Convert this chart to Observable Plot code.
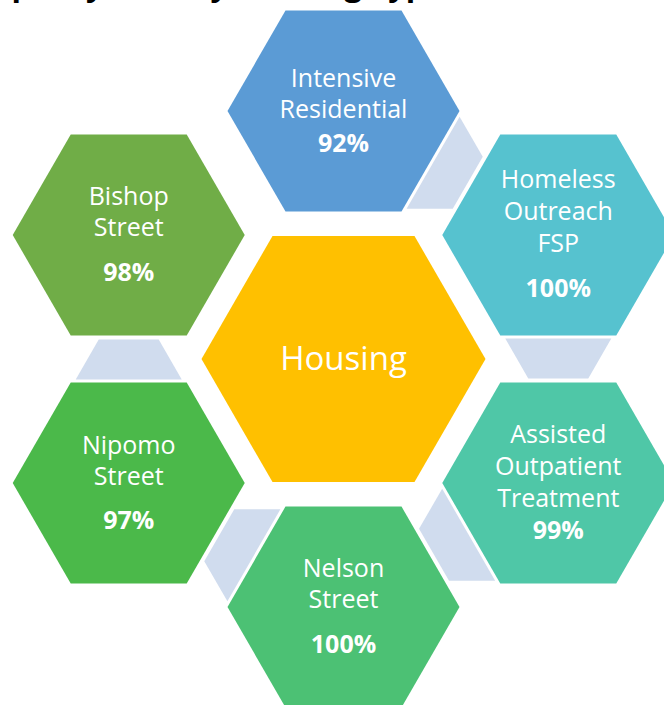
<!DOCTYPE html>
<html>
<head>
<meta charset="utf-8">
<script src="https://cdn.jsdelivr.net/npm/d3@7"></script>
<script src="https://cdn.jsdelivr.net/npm/@observablehq/plot@0.6"></script>
<style>
  html, body { margin: 0; padding: 0; background: #fff; overflow: hidden; }
  #chart svg { overflow: visible; display: block; }
</style>
</head>
<body>
<div id="chart"></div>
<script>
// ---------------- data ----------------
const titleText = "Occupancy Rate by Housing Type";
const hubLabel = "Housing";
const programs = [
  "Intensive Residential",
  "Homeless Outreach FSP",
  "Assisted Outpatient Treatment",
  "Nelson Street",
  "Nipomo Street",
  "Bishop Street"
];
const labelLines = [
  ["Intensive", "Residential"],
  ["Homeless", "Outreach", "FSP"],
  ["Assisted", "Outpatient", "Treatment"],
  ["Nelson", "Street"],
  ["Nipomo", "Street"],
  ["Bishop", "Street"]
];
const occupancy = [92, 100, 99, 100, 97, 98];
// connectors link program i to program i+1 (clockwise)
const links = [[0, 1], [1, 2], [2, 3], [3, 4], [4, 5]];

// ---------------- layout / style ----------------
const W = 664, H = 705;
const hub = {x: 343, y: 358.5};
const ringRadius = 248;
const ringAngles = [-90, -30, 30, 90, 150, 210];
const Rsmall = 116, Rbig = 142;
const hexColors = ["#5B9BD5", "#56C2CF", "#4FC7A7", "#4CC174", "#4BB94A", "#70AD47"];
const hubColor = "#FFC000";
const linkColor = "#D0DCEE";
const firstBaseline = [-24, -47, -40, -30, -29, -30];
const lineStep = [31, 32, 32, 31, 31, 31];
const pctGap = [34, 45, 32, 45, 44, 45];
const font = "'Open Sans', 'Noto Sans', sans-serif";

const rad = d => d * Math.PI / 180;
const centers = ringAngles.map(a => ({x: hub.x + ringRadius * Math.cos(rad(a)), y: hub.y + ringRadius * Math.sin(rad(a))}));

function hexPoints(c, R, id, color) {
  return d3.range(6).map(k => ({x: c.x + R * Math.cos(rad(60 * k)), y: c.y + R * Math.sin(rad(60 * k)), id, color}));
}

const hexData = [
  ...hexPoints(hub, Rbig, "hub", hubColor),
  ...programs.flatMap((p, i) => hexPoints(centers[i], Rsmall, p, hexColors[i]))
];

const apothem = Rsmall * Math.sqrt(3) / 2;
const linkData = links.flatMap(([a, b], j) => {
  const A = centers[a], B = centers[b];
  const dx = B.x - A.x, dy = B.y - A.y, L = Math.hypot(dx, dy);
  const u = {x: dx / L, y: dy / L}, v = {x: -u.y, y: u.x};
  const d1 = apothem + 3, d2 = apothem + 43, h1 = 53, h2 = 30;
  const pt = (d, s) => ({x: A.x + u.x * d + v.x * s, y: A.y + u.y * d + v.y * s, id: "link" + j});
  return [pt(d1, h1), pt(d2, h2), pt(d2, -h2), pt(d1, -h1)];
});

const textData = [];
programs.forEach((p, i) => {
  const c = centers[i];
  labelLines[i].forEach((t, k) => {
    textData.push({x: c.x, y: c.y + firstBaseline[i] + k * lineStep[i], text: t, weight: "normal"});
  });
  const last = c.y + firstBaseline[i] + (labelLines[i].length - 1) * lineStep[i];
  textData.push({x: c.x, y: last + pctGap[i], text: occupancy[i] + "%", weight: "bold"});
});

const chart = Plot.plot({
  width: W,
  height: H,
  margin: 0,
  x: {domain: [0, W], range: [0, W], axis: null},
  y: {domain: [0, H], range: [0, H], axis: null},
  style: {background: "white", overflow: "visible"},
  marks: [
    Plot.line(linkData, {x: "x", y: "y", z: "id", fill: linkColor, stroke: "none", curve: "linear-closed"}),
    Plot.line(hexData, {x: "x", y: "y", z: "id", fill: "color", stroke: "none", curve: "linear-closed"}),
    Plot.text(textData.filter(d => d.weight === "normal"), {x: "x", y: "y", text: "text", fill: "white", fontSize: 25, fontFamily: font, lineAnchor: "bottom", textAnchor: "middle"}),
    Plot.text(textData.filter(d => d.weight === "bold"), {x: "x", y: "y", text: "text", fill: "white", fontSize: 25, fontWeight: "bold", fontFamily: font, lineAnchor: "bottom", textAnchor: "middle"}),
    Plot.text([hubLabel], {x: hub.x, y: hub.y + 11, text: d => d, fill: "white", fontSize: 33, fontFamily: font, lineAnchor: "bottom", textAnchor: "middle"}),
    Plot.text([titleText], {x: -66, y: -4.5, text: d => d, fill: "black", fontSize: 31, fontWeight: "bold", fontFamily: font, lineAnchor: "bottom", textAnchor: "start"})
  ]
});
document.getElementById("chart").appendChild(chart);
</script>
</body>
</html>
